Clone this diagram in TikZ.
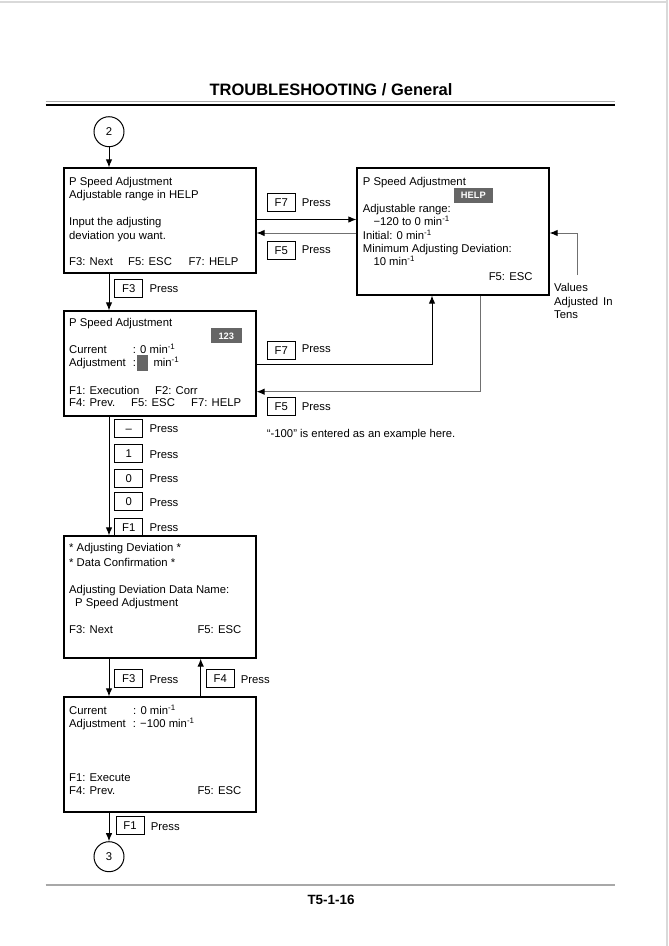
\documentclass[tikz,border=0pt]{standalone}
\usepackage{fontspec}
\setmainfont{Liberation Sans}
\usetikzlibrary{arrows.meta,calc}
\definecolor{badge}{HTML}{666666}
\definecolor{lgrey}{HTML}{A8A8A8}
\definecolor{dgrey}{HTML}{707070}
\definecolor{pageline}{HTML}{D9D9D9}
\newcommand{\bx}{\fontsize{11.3}{13}\selectfont}
\newcommand{\mi}{min\textsuperscript{-1}}
\begin{document}
\begin{tikzpicture}[x=1pt,y=-1pt,
  txt/.style={anchor=west,inner sep=0pt,text height=8pt,text depth=0pt,font=\bx},
  rtxt/.style={anchor=east,inner sep=0pt,text height=8pt,text depth=0pt,font=\bx},
  scr/.style={draw,line width=1.2pt,inner sep=0pt,minimum width=192pt},
  keybox/.style={draw,line width=0.9pt,inner sep=0pt,minimum width=28pt,minimum height=18pt,text height=8pt,text depth=0pt,font=\bx},
  conn/.style={draw,circle,minimum size=30pt,inner sep=0pt,line width=1pt,font=\bx},
  arr/.style={line width=1pt,-{Latex[length=8pt,width=6.5pt,color=black]}},
  badgebox/.style={fill=badge,text=white,inner sep=0pt,minimum height=15pt,font=\bfseries\fontsize{9.3}{10}\selectfont}]
\useasboundingbox (0,0) rectangle (669,946);
% page edges
\draw[pageline,line width=1.5pt] (0,2) -- (666.5,2);
\draw[pageline,line width=2pt] (666.5,0) -- (666.5,946);
% header
\node[inner sep=0pt,text height=12pt,text depth=0pt,font=\bfseries\fontsize{16.5}{18}\selectfont] (title) at (331,89.5) {TROUBLESHOOTING / General};
\draw[lgrey,line width=1.3pt] (45.5,101.5) -- (615,101.5);
\draw[line width=2.6pt] (45.5,104.8) -- (615,104.8);
% footer
\draw[lgrey,line width=2pt] (45.5,885) -- (615,885);
\node[inner sep=0pt,text height=10pt,text depth=0pt,font=\bfseries\fontsize{13.4}{15}\selectfont] (foot) at (331,899.5) {T5-1-16};

% connectors circles
\node[conn] (c2) at (109,131.7) {2};
\node[conn] (c3) at (109,856.7) {3};

% screens
\node[scr,minimum height=105pt] (b1) at (160,220.5) {};
\node[scr,minimum height=127pt] (b2) at (453,231.5) {};
\node[scr,minimum height=105pt] (b3) at (160,363.5) {};
\node[scr,minimum height=122pt] (b4) at (160,597) {};
\node[scr,minimum height=115pt] (b5) at (160,754.5) {};

% box 1 text
\node[txt] (b1a) at (69,181) {P Speed Adjustment};
\node[txt] (b1b) at (69,194.3) {Adjustable range in HELP};
\node[txt] (b1c) at (69,221.7) {Input the adjusting};
\node[txt] (b1d) at (69,235) {deviation you want.};
\node[txt] (b1e) at (69,261.7) {F3: Next};
\node[txt] (b1f) at (128,261.7) {F5: ESC};
\node[txt] (b1g) at (188.3,261.7) {F7: HELP};

% box 2 text
\node[txt] (b2a) at (362.7,181) {P Speed Adjustment};
\node[badgebox,minimum width=38.7pt] (help) at (473.3,195.2) {HELP};
\node[txt] (b2b) at (362.7,208.3) {Adjustable range:};
\node[txt] (b2c) at (373.3,221.7) {−120 to 0 \mi};
\node[txt] (b2d) at (362.7,235) {Initial: 0 \mi};
\node[txt] (b2e) at (362.7,248.3) {Minimum Adjusting Deviation:};
\node[txt] (b2f) at (373.3,261) {10 \mi};
\node[rtxt] (b2g) at (532.7,276.7) {F5: ESC};

% values note
\node[txt] (v1) at (554,287.3) {Values};
\node[txt] (v2) at (554,301) {Adjusted\hspace{5pt}In};
\node[txt] (v3) at (554,314) {Tens};

% box 3 text
\node[txt] (b3a) at (69,322.3) {P Speed Adjustment};
\node[badgebox,minimum width=30.7pt] (n123) at (226.3,335.8) {123};
\node[txt] (b3b) at (69,349) {Current};
\node[txt] (b3c) at (132.7,349) {: 0 \mi};
\node[txt] (b3d) at (69,362.7) {Adjustment};
\node[txt] (b3e) at (132.7,362.7) {:};
\node[fill=badge,inner sep=0pt,minimum width=11pt,minimum height=15.7pt] (cursor) at (142.2,362.8) {};
\node[txt] (b3f) at (153.3,362.7) {\mi};
\node[txt] (b3g) at (69,390) {F1: Execution};
\node[txt] (b3h) at (155,390) {F2: Corr};
\node[txt] (b3i) at (69,402.7) {F4: Prev.};
\node[txt] (b3j) at (131,402.7) {F5: ESC};
\node[txt] (b3k) at (191,402.7) {F7: HELP};

% box 4 text
\node[txt] (b4a) at (69,547.7) {* Adjusting Deviation *};
\node[txt] (b4b) at (69,562.3) {* Data Confirmation *};
\node[txt] (b4c) at (69,589.3) {Adjusting Deviation Data Name:};
\node[txt] (b4d) at (75,602.3) {P Speed Adjustment};
\node[txt] (b4e) at (69,629) {F3: Next};
\node[txt] (b4f) at (197.3,629) {F5: ESC};

% box 5 text
\node[txt] (b5a) at (69,710.7) {Current};
\node[txt] (b5b) at (133,710.7) {: 0 \mi};
\node[txt] (b5c) at (69,723.3) {Adjustment};
\node[txt] (b5d) at (132.7,723.3) {: −100 \mi};
\node[txt] (b5e) at (69,777.3) {F1: Execute};
\node[txt] (b5f) at (69,790.7) {F4: Prev.};
\node[txt] (b5g) at (197.3,790.7) {F5: ESC};

% connectors
\draw[arr] (c2.south) -- (b1.north -| c2.south);
\draw[arr] (b1.south -| c2.south) -- (b3.north -| c2.south);
\draw[arr] (b1.east |- 0,219.5) -- (b2.west |- 0,219.5);
\draw[arr,draw=dgrey] (b2.west |- 0,233) -- (b1.east |- 0,233);
\coordinate (vt) at (577.5,275);
\draw[arr,draw=dgrey] (vt) |- (b2.east |- 0,233);
\draw[arr] (b3.east |- 0,364.3) -| (b2.south -| 432,0);
\draw[arr,draw=dgrey] (b2.south -| 480,0) |- (b3.east |- 0,391.7);
\draw[arr] (b3.south -| c2.south) -- (b4.north -| c2.south);
\draw[arr] (b4.south -| c2.south) -- (b5.north -| c2.south);
\draw[arr] (b5.north -| 200.7,0) -- (b4.south -| 200.7,0);
\draw[arr] (b5.south -| c3.north) -- (c3.north);

% key presses
\node[keybox] (k1) at (128.7,288) {F3};
\node[txt] (p1) at (149.3,288) {Press};
\node[keybox] (k2) at (281.3,202.2) {F7};
\node[txt] (p2) at (301.7,202.5) {Press};
\node[keybox] (k3) at (281.3,250) {F5};
\node[txt] (p3) at (301.7,249.5) {Press};
\node[keybox] (k4) at (281.3,350) {F7};
\node[txt] (p4) at (301.7,348.5) {Press};
\node[keybox] (k5) at (281.3,406.5) {F5};
\node[txt] (p5) at (301.7,406) {Press};
\node[keybox] (k6) at (128.8,428.3) {–};
\node[txt] (p6) at (149.3,428.3) {Press};
\node[keybox] (k7) at (128.8,453.5) {1};
\node[txt] (p7) at (149.3,454) {Press};
\node[keybox] (k8) at (128.8,478.3) {0};
\node[txt] (p8) at (149.3,478.3) {Press};
\node[keybox] (k9) at (128.8,501.2) {0};
\node[txt] (p9) at (149.3,502) {Press};
\node[keybox] (k10) at (128.8,527) {F1};
\node[txt] (p10) at (149.3,527) {Press};
\node[keybox] (k11) at (128.7,678.3) {F3};
\node[txt] (p11) at (149.3,679) {Press};
\node[keybox] (k12) at (220.3,678.3) {F4};
\node[txt] (p12) at (240.7,679) {Press};
\node[keybox] (k13) at (130,825.5) {F1};
\node[txt] (p13) at (150.7,826) {Press};

% note
\node[txt] (note) at (266.7,433.3) {“-100” is entered as an example here.};
\end{tikzpicture}
\end{document}
